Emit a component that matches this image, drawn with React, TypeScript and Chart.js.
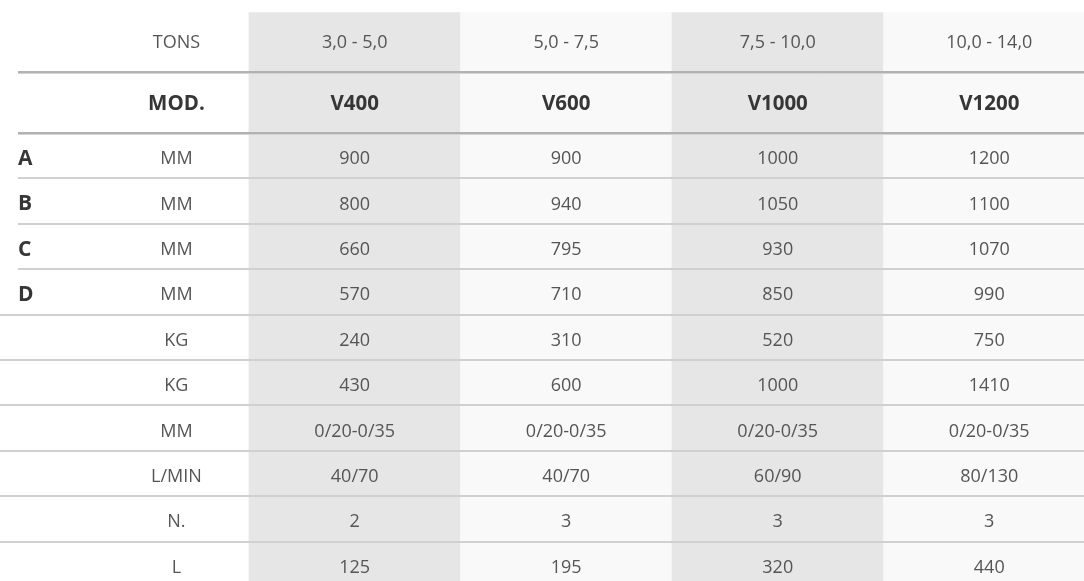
import React, { useEffect, useRef } from "react";
import { Chart, registerables } from "chart.js";

Chart.register(...registerables);

// ---- data ----
const tonnage = ["3,0 - 5,0", "5,0 - 7,5", "7,5 - 10,0", "10,0 - 14,0"];
const models = ["V400", "V600", "V1000", "V1200"];
const rowLetters = ["A", "B", "C", "D", "", "", "", "", "", ""];
const rowUnits = ["MM", "MM", "MM", "MM", "KG", "KG", "MM", "L/MIN", "N.", "L"];
const v400 = ["900", "800", "660", "570", "240", "430", "0/20-0/35", "40/70", "2", "125"];
const v600 = ["900", "940", "795", "710", "310", "600", "0/20-0/35", "40/70", "3", "195"];
const v1000 = ["1000", "1050", "930", "850", "520", "1000", "0/20-0/35", "60/90", "3", "320"];
const v1200 = ["1200", "1100", "1070", "990", "750", "1410", "0/20-0/35", "80/130", "3", "440"];
const modelValues = [v400, v600, v1000, v1200];
const columnCenters = [0.5, 1.5, 2.5, 3.5];
const columnShades = ["#e6e6e6", "#f9f9f9", "#e6e6e6", "#f9f9f9"];

// layout in scale units (x: column widths, y: data-row heights)
const X_MIN = -1.177;
const X_MAX = 3.948;
const Y_MIN = -2.93;
const Y_MAX = 9.868;
const UNIT_X = -0.343;
const LETTER_X = -1.092;
const SHADE_TOP = -2.655;
const TONS_LINE = -1.335;
const MOD_LINE = 0;
const TONS_CENTER = -2.01;
const MOD_CENTER = -0.67;

const FONT = '"Open Sans", "Noto Sans", sans-serif';
const TEXT = "#555555";
const BOLD = "#363636";

const tablePlugin = {
  id: "tableText",
  afterDatasetsDraw(chart: any) {
    const { ctx, scales } = chart;
    const x = scales.x;
    const y = scales.y;
    const right = chart.width;
    ctx.save();

    // thick header lines
    [TONS_LINE, MOD_LINE].forEach((v) => {
      const py = Math.round(y.getPixelForValue(v));
      ctx.lineWidth = 2;
      ctx.strokeStyle = "#b2b2b2";
      ctx.beginPath();
      ctx.moveTo(x.getPixelForValue(LETTER_X), py);
      ctx.lineTo(right, py);
      ctx.stroke();
      ctx.lineWidth = 1;
      ctx.strokeStyle = "#d4d4d4";
      ctx.beginPath();
      ctx.moveTo(x.getPixelForValue(LETTER_X), py + 1.5);
      ctx.lineTo(right, py + 1.5);
      ctx.stroke();
    });

    // thin row lines
    ctx.lineWidth = 2;
    ctx.strokeStyle = "#d0d0d0";
    for (let i = 1; i < rowUnits.length; i++) {
      const py = Math.round(y.getPixelForValue(i));
      const startX = rowLetters[i] ? x.getPixelForValue(LETTER_X) : 0;
      ctx.beginPath();
      ctx.moveTo(startX, py);
      ctx.lineTo(right, py);
      ctx.stroke();
    }

    ctx.textBaseline = "alphabetic";

    // header rows
    ctx.textAlign = "center";
    ctx.fillStyle = TEXT;
    ctx.font = `400 18px ${FONT}`;
    ctx.fillText("TONS", x.getPixelForValue(UNIT_X), y.getPixelForValue(TONS_CENTER) + 6.5);
    tonnage.forEach((t, i) => {
      ctx.fillText(t, x.getPixelForValue(columnCenters[i]), y.getPixelForValue(TONS_CENTER) + 6.5);
    });
    ctx.fillStyle = BOLD;
    ctx.font = `700 20.5px ${FONT}`;
    ctx.fillText("MOD.", x.getPixelForValue(UNIT_X), y.getPixelForValue(MOD_CENTER) + 7.3);
    models.forEach((m, i) => {
      ctx.fillText(m, x.getPixelForValue(columnCenters[i]), y.getPixelForValue(MOD_CENTER) + 7.3);
    });

    // data rows
    rowUnits.forEach((u, r) => {
      const cy = y.getPixelForValue(r + 0.5);
      if (rowLetters[r]) {
        ctx.textAlign = "left";
        ctx.fillStyle = BOLD;
        ctx.font = `700 21px ${FONT}`;
        ctx.fillText(rowLetters[r], x.getPixelForValue(LETTER_X), cy + 9);
      }
      ctx.textAlign = "center";
      ctx.fillStyle = TEXT;
      ctx.font = `400 18px ${FONT}`;
      ctx.fillText(u, x.getPixelForValue(UNIT_X), cy + 8.5);
      modelValues.forEach((vals, c) => {
        ctx.fillText(vals[r], x.getPixelForValue(columnCenters[c]), cy + 8.5);
      });
    });

    ctx.restore();
  },
};

export default function App() {
  const ref = useRef<HTMLCanvasElement | null>(null);
  useEffect(() => {
    if (!ref.current) return;
    const chart = new Chart(ref.current, {
      type: "bar",
      data: {
        datasets: [
          {
            data: columnCenters.map((cx) => ({ x: cx, y: [SHADE_TOP, Y_MAX + 1] })) as any,
            backgroundColor: columnShades,
            borderWidth: 0,
            barPercentage: 1,
            categoryPercentage: 1,
          },
        ],
      },
      options: {
        animation: false,
        responsive: true,
        maintainAspectRatio: false,
        layout: { padding: 0 },
        plugins: { legend: { display: false }, tooltip: { enabled: false } },
        events: [],
        scales: {
          x: {
            type: "linear",
            min: X_MIN,
            max: X_MAX,
            display: false,
            offset: false,
            afterBuildTicks: (scale: any) => {
              scale.ticks = columnCenters.map((v) => ({ value: v }));
            },
          },
          y: { type: "linear", min: Y_MIN, max: Y_MAX, reverse: true, display: false },
        },
      },
      plugins: [tablePlugin],
    });
    return () => chart.destroy();
  }, []);
  return (
    <div style={{ position: "absolute", left: 0, top: 0, width: 1084, height: 581, background: "#ffffff" }}>
      <canvas ref={ref} />
    </div>
  );
}
